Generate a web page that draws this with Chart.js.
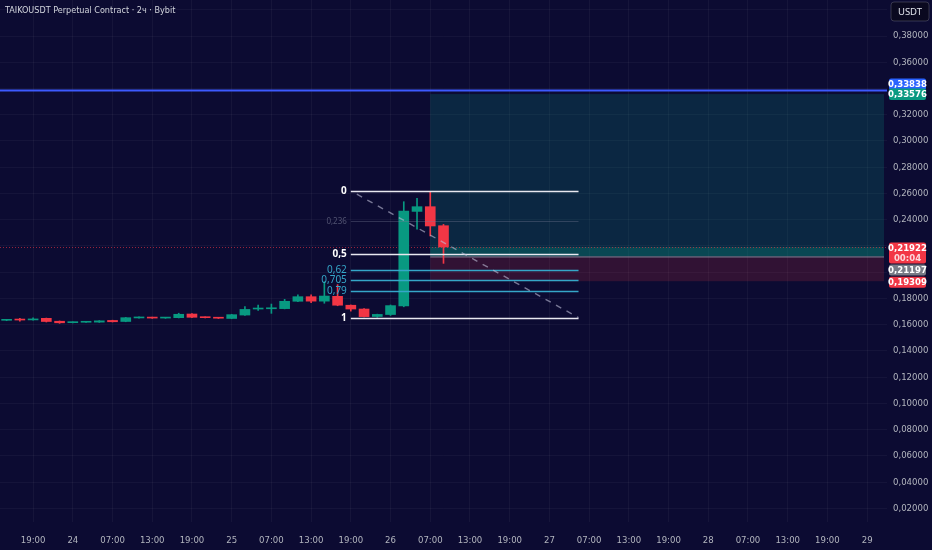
<!DOCTYPE html>
<html><head><meta charset="utf-8">
<script src="https://cdn.jsdelivr.net/npm/chart.js@4.4.1/dist/chart.umd.min.js"></script>
<style>html,body{margin:0;padding:0;background:#0c0b32;}#wrap{width:932px;height:550px;position:relative;}</style>
</head><body><div id="wrap"><canvas id="c" width="932" height="550"></canvas></div>
<script>
// ---- data ----
const title = 'TAIKOUSDT Perpetual Contract · 2ч · Bybit';
const barCount = 67; // visible 2h slots
const tickLabels = ['19:00','24','07:00','13:00','19:00','25','07:00','13:00','19:00','26','07:00','13:00','19:00','27','07:00','13:00','19:00','28','07:00','13:00','19:00','29'];
const opens  = [0.1633,0.1637,0.1636,0.1648,0.1626,0.1615,0.1618,0.1619,0.1632,0.1624,0.1651,0.1655,0.1650,0.1653,0.1681,0.1657,0.1653,0.1647,0.1673,0.1719,0.1721,0.1722,0.1778,0.1813,0.1779,0.1816,0.1748,0.1719,0.1662,0.1677,0.1742,0.2463,0.2499,0.2354];
const highs  = [0.1640,0.1648,0.1652,0.1650,0.1628,0.1621,0.1625,0.1631,0.1634,0.1655,0.1660,0.1657,0.1655,0.1687,0.1684,0.1659,0.1655,0.1679,0.1737,0.1750,0.1757,0.1793,0.1828,0.1828,0.1927,0.1905,0.1750,0.1722,0.1680,0.1750,0.2537,0.2563,0.2616,0.2364];
const lows   = [0.1630,0.1627,0.1634,0.1620,0.1610,0.1613,0.1616,0.1617,0.1620,0.1622,0.1649,0.1648,0.1648,0.1651,0.1654,0.1651,0.1647,0.1645,0.1671,0.1708,0.1686,0.1720,0.1776,0.1768,0.1763,0.1744,0.1703,0.1658,0.1656,0.1670,0.1736,0.2327,0.2276,0.2067];
const closes = [0.1637,0.1635,0.1642,0.1624,0.1614,0.1619,0.1623,0.1629,0.1622,0.1653,0.1655,0.1650,0.1653,0.1679,0.1656,0.1653,0.1649,0.1676,0.1716,0.1724,0.1723,0.1778,0.1813,0.1779,0.1818,0.1748,0.1719,0.1661,0.1678,0.1745,0.2466,0.2499,0.2352,0.2192];
const fibLevels = [0, 0.236, 0.5, 0.62, 0.705, 0.79, 1];
const fibLabels = ['0', '0,236', '0,5', '0,62', '0,705', '0,79', '1'];
const fibHigh = 0.2617, fibLow = 0.1653;
const fibStartBar = 26, fibEndBar = 43.2;
const positionStartBar = 32;
const targetPrice = 0.33576, entryPrice = 0.21197, stopPrice = 0.19309, lastPrice = 0.21922;
const alertPrice = 0.33838;
const countdown = '00:04';
const yMin = 0.00957, yMax = 0.40744;

// ---- styles ----
const BG = '#0c0b32', UP = '#089981', DOWN = '#f23645';
const AXIS_FONT = "'Liberation Sans Narrow','DejaVu Sans Condensed','Liberation Sans',sans-serif";
const categories = [];
for (let i = 0; i < barCount; i++) categories.push('bar' + i);
const bodyData = opens.map((o, i) => [o, closes[i]]);
const wickData = lows.map((l, i) => [l, highs[i]]);
const colors = opens.map((o, i) => closes[i] >= o ? UP : DOWN);
const fmt = v => v.toFixed(5).replace('.', ',');

function rr(ctx, x, y, w, h, r) {
  ctx.beginPath(); ctx.moveTo(x + r, y); ctx.lineTo(x + w - r, y); ctx.quadraticCurveTo(x + w, y, x + w, y + r);
  ctx.lineTo(x + w, y + h - r); ctx.quadraticCurveTo(x + w, y + h, x + w - r, y + h); ctx.lineTo(x + r, y + h);
  ctx.quadraticCurveTo(x, y + h, x, y + h - r); ctx.lineTo(x, y + r); ctx.quadraticCurveTo(x, y, x + r, y); ctx.closePath();
}

const overlay = {
  id: 'overlay',
  beforeDraw(chart) {
    const c = chart.ctx; c.save(); c.fillStyle = BG; c.fillRect(0, 0, chart.width, chart.height); c.restore();
  },
  beforeDatasetsDraw(chart) {
    const c = chart.ctx, xs = chart.scales.x, ys = chart.scales.y, a = chart.chartArea;
    c.save();
    const x0 = xs.getPixelForValue(positionStartBar), x1 = a.right - 3;
    const yT = ys.getPixelForValue(targetPrice), yE = ys.getPixelForValue(entryPrice), yS = ys.getPixelForValue(stopPrice), yL = ys.getPixelForValue(lastPrice);
    c.fillStyle = 'rgba(8,153,129,0.20)'; c.fillRect(x0, yT, x1 - x0, yE - yT);
    c.fillStyle = 'rgba(8,153,129,0.28)'; c.fillRect(x0, yL, x1 - x0, yE - yL);
    c.fillStyle = 'rgba(242,54,69,0.16)'; c.fillRect(x0, yE, x1 - x0, yS - yE);
    c.strokeStyle = 'rgba(140,143,160,0.9)'; c.lineWidth = 1;
    c.beginPath(); c.moveTo(x0, yE + 0.5); c.lineTo(x1, yE + 0.5); c.stroke();
    // last price dotted line
    c.strokeStyle = 'rgba(242,54,69,0.6)'; c.setLineDash([1, 2]);
    c.beginPath(); c.moveTo(a.left, Math.round(yL) + 0.5); c.lineTo(a.right, Math.round(yL) + 0.5); c.stroke();
    c.setLineDash([]);
    // alert line
    const yA = ys.getPixelForValue(alertPrice);
    c.strokeStyle = '#3d5afe'; c.lineWidth = 2;
    c.beginPath(); c.moveTo(a.left, yA); c.lineTo(a.right, yA); c.stroke();
    c.restore();
  },
  afterDatasetsDraw(chart) {
    const c = chart.ctx, xs = chart.scales.x, ys = chart.scales.y, a = chart.chartArea;
    c.save();
    const fx0 = xs.getPixelForValue(fibStartBar), fx1 = xs.getPixelForValue(fibEndBar);
    fibLevels.forEach((lv, i) => {
      const v = fibHigh - lv * (fibHigh - fibLow);
      const y = Math.round(ys.getPixelForValue(v)) + 0.5;
      let col, lw, tc, bold = false;
      if (lv === 0 || lv === 0.5 || lv === 1) { col = '#e8e8f0'; lw = 1.6; tc = '#ffffff'; bold = true; }
      else if (lv === 0.236) { col = 'rgba(120,123,150,0.35)'; lw = 1; tc = 'rgba(110,113,140,0.7)'; }
      else { col = '#35a6c8'; lw = 1.4; tc = '#35a6c8'; }
      c.strokeStyle = col; c.lineWidth = lw;
      c.beginPath(); c.moveTo(fx0, y); c.lineTo(fx1, y); c.stroke();
      c.fillStyle = tc; c.textAlign = 'right'; c.textBaseline = 'middle';
      c.font = (bold ? 'bold ' : '') + (lv === 0.236 ? '8px ' : '10px ') + "'Noto Sans',sans-serif";
      c.fillText(fibLabels[i], fx0 - 4, y);
    });
    // diagonal dashed trend
    c.strokeStyle = 'rgba(190,190,215,0.6)'; c.lineWidth = 1.4; c.setLineDash([6, 6]);
    c.beginPath();
    c.moveTo(fx0 + 6, ys.getPixelForValue(fibHigh) + 3);
    c.lineTo(fx1, ys.getPixelForValue(fibLow));
    c.stroke(); c.setLineDash([]);
    c.restore();
  },
  afterDraw(chart) {
    const c = chart.ctx, ys = chart.scales.y, a = chart.chartArea;
    c.save();
    // title
    c.fillStyle = '#d1d4dc'; c.font = "9px " + AXIS_FONT; c.textAlign = 'left'; c.textBaseline = 'middle';
    c.fillText(title, 5, 11);
    // USDT button
    rr(c, 891, 2, 38, 19, 3); c.fillStyle = '#0a0920'; c.fill();
    c.strokeStyle = 'rgba(255,255,255,0.18)'; c.lineWidth = 1; c.stroke();
    c.fillStyle = '#e0e3eb'; c.font = "9.5px 'Noto Sans',sans-serif"; c.textAlign = 'center';
    c.fillText('USDT', 910, 12);
    // price labels
    const lx = 889, lw = 37;
    const lab = (top, h, bg, lines, colors2) => {
      rr(c, lx, top, lw, h, 2); c.fillStyle = bg; c.fill();
      c.font = "bold 9.5px " + AXIS_FONT; c.textAlign = 'center'; c.textBaseline = 'middle';
      lines.forEach((t, k) => { c.fillStyle = colors2[k]; c.fillText(t, lx + lw / 2, top + 6 + k * 10); });
    };
    const yA = ys.getPixelForValue(alertPrice), yT = ys.getPixelForValue(targetPrice);
    lab(yA - 12, 11.5, '#2962ff', [fmt(alertPrice)], ['#fff']);
    lab(yT - 5.5, 11.5, UP, [fmt(targetPrice)], ['#fff']);
    const yL = ys.getPixelForValue(lastPrice);
    lab(yL - 4.5, 21, DOWN, [fmt(lastPrice), countdown], ['#fff', 'rgba(255,255,255,0.8)']);
    lab(yL + 17.5, 11, '#787b86', [fmt(entryPrice)], ['#fff']);
    const yS = ys.getPixelForValue(stopPrice);
    lab(yS - 4.5, 11, DOWN, [fmt(stopPrice)], ['#fff']);
    c.restore();
  }
};

new Chart(document.getElementById('c'), {
  type: 'bar',
  data: {
    labels: categories,
    datasets: [
      { data: wickData, backgroundColor: colors, barThickness: 1, grouped: false, borderWidth: 0, order: 2 },
      { data: bodyData, backgroundColor: colors, barThickness: 10, grouped: false, borderWidth: 0, minBarLength: 1, order: 1 }
    ]
  },
  options: {
    responsive: false, animation: false, devicePixelRatio: 1,
    layout: { padding: 0, autoPadding: false },
    plugins: { legend: { display: false }, tooltip: { enabled: false } },
    scales: {
      x: {
        offset: true,
        afterFit(s) { s.height = 28; s.paddingLeft = 0; s.paddingRight = 0; },
        border: { display: false },
        grid: { offset: false, drawTicks: false, color: ctx => (ctx.index % 3 === 2) ? 'rgba(255,255,255,0.045)' : 'transparent' },
        ticks: { autoSkip: false, maxRotation: 0, padding: 13, color: '#b2b5be', font: { size: 9.5, family: AXIS_FONT },
          callback: (v, i) => (i % 3 === 2 && tickLabels[(i - 2) / 3]) ? tickLabels[(i - 2) / 3] : '' }
      },
      y: {
        position: 'right', min: yMin, max: yMax,
        afterFit(s) { s.width = 45; s.paddingTop = 0; s.paddingBottom = 0; },
        border: { display: false },
        grid: { drawTicks: false, color: 'rgba(255,255,255,0.04)' },
        ticks: { stepSize: 0.02, includeBounds: false, padding: 6, color: '#b2b5be', font: { size: 9.5, family: AXIS_FONT },
          callback: v => {
            const r = Math.round(v * 100);
            if (r === 40 || r === 34 || r === 22 || r === 20 || r === 0) return '';
            return fmt(v);
          } }
      }
    }
  },
  plugins: [overlay]
});
</script></body></html>
